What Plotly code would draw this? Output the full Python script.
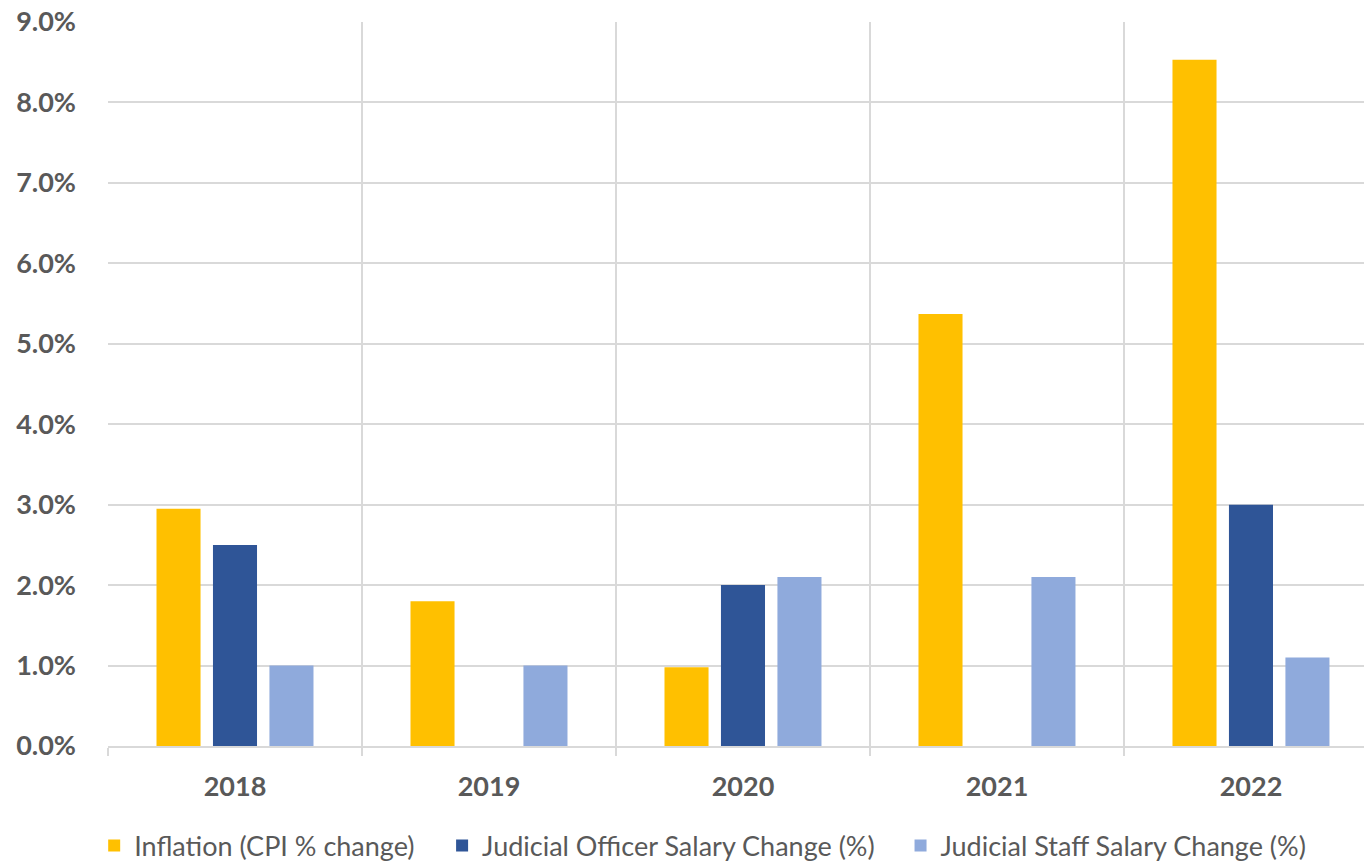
import plotly.graph_objects as go

years = ["2018", "2019", "2020", "2021", "2022"]
inflation = [2.95, 1.8, 0.98, 5.37, 8.53]
officer = [2.5, 0.0, 2.0, 0.0, 3.0]
staff = [1.0, 1.0, 2.1, 2.1, 1.1]

series = [
    ("Inflation (CPI % change)", inflation, "#FFC000"),
    ("Judicial Officer Salary Change (%)", officer, "#2F5597"),
    ("Judicial Staff Salary Change (%)", staff, "#8FAADC"),
]
legend_ids = ["legend", "legend2", "legend3"]
legend_x = [-0.011, 0.266, 0.631]

xpos = list(range(len(years)))
bounds = [i - 0.5 for i in range(len(years) + 1)]

fig = go.Figure()
for (name, vals, col), lid in zip(series, legend_ids):
    fig.add_trace(go.Bar(x=xpos, y=vals, name=name, legend=lid,
                         marker=dict(color=col, line=dict(width=0))))

FONT = "Lato"
legend_common = dict(orientation="h", xanchor="left", y=-0.138, yanchor="middle",
                     font=dict(family=FONT, size=27, color="#595959"),
                     itemwidth=30, bgcolor="rgba(0,0,0,0)")
layout_legends = {lid: dict(x=lx, **legend_common) for lid, lx in zip(legend_ids, legend_x)}

fig.update_layout(
    width=1364, height=863,
    margin=dict(l=108, r=0, t=22, b=117, autoexpand=False),
    paper_bgcolor="white", plot_bgcolor="white",
    barmode="group", bargap=0.333, bargroupgap=0.22,
    font=dict(family=FONT, color="#595959"),
    showlegend=True,
    **layout_legends,
)
fig.update_xaxes(
    range=[-0.5, 4.445], automargin=False,
    tickvals=xpos, ticktext=years,
    tickfont=dict(family=FONT, size=27, color="#595959", weight="bold"),
    showgrid=False, ticks="", ticklabelstandoff=16,
    showline=True, linecolor="#D9D9D9", linewidth=2,
    zeroline=False,
    minor=dict(tickvals=bounds, showgrid=True, gridcolor="#D9D9D9", gridwidth=2,
               ticks="outside", ticklen=8, tickcolor="#D9D9D9", tickwidth=2),
)
fig.update_yaxes(
    range=[0, 9], dtick=1, tick0=0, automargin=False,
    tickformat=".1f", ticksuffix="%", ticklabeloverflow="allow",
    tickfont=dict(family=FONT, size=27, color="#595959", weight="bold"),
    showgrid=True, gridcolor="#D9D9D9", gridwidth=2,
    zeroline=False, ticks="", ticklabelstandoff=31,
)
fig.write_html("out.html", config={"displayModeBar": False},
               post_script="document.body.style.margin='0';document.body.style.overflow='hidden';")
